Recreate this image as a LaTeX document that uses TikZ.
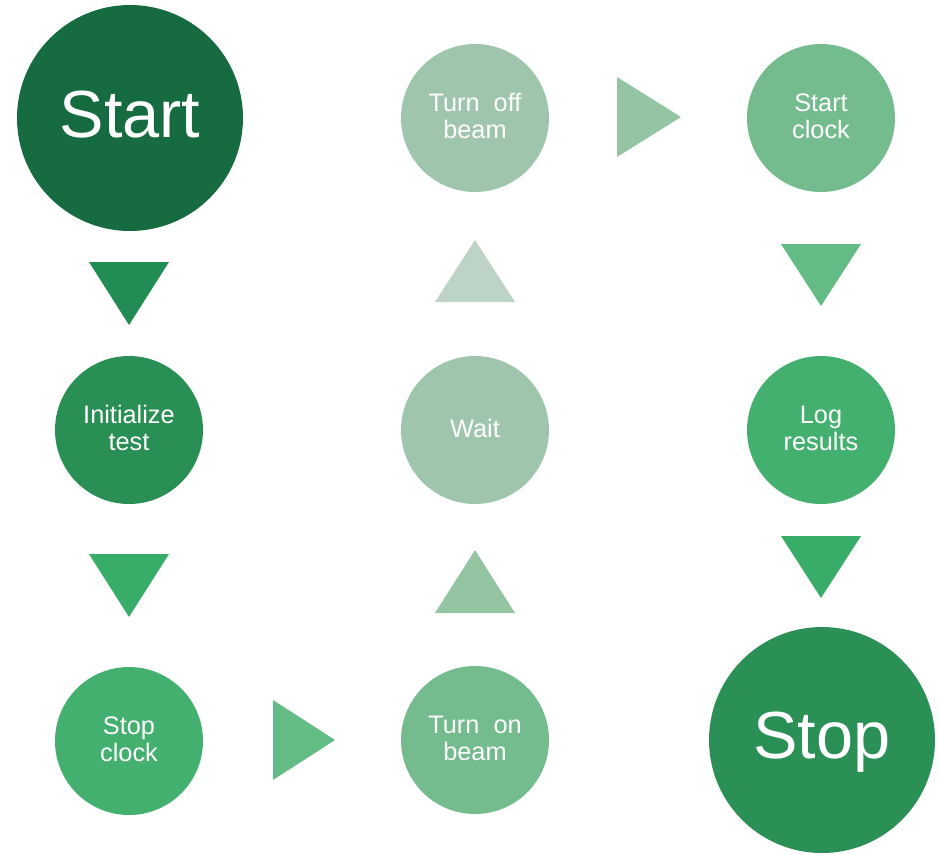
\documentclass[tikz,border=0pt]{standalone}
\usepackage{fontspec}
\setmainfont{Liberation Sans}
\begin{document}
\begin{tikzpicture}[x=0.75pt,y=-0.75pt,
  bigdot/.style={circle,draw=none,inner sep=0pt,minimum size=169.5pt},
  dot/.style={circle,draw=none,inner sep=0pt,minimum size=111pt},
  bigtxt/.style={text=white,inner sep=0pt,anchor=base,font=\fontsize{50}{56}\selectfont},
  txt/.style={text=white,inner sep=0pt,anchor=base,align=center,font=\fontsize{19}{20.25}\selectfont}]
\definecolor{cStart}{HTML}{176B40}
\definecolor{cInit}{HTML}{2A8F55}
\definecolor{cStopClock}{HTML}{44B070}
\definecolor{cTurnOn}{HTML}{74BB8E}
\definecolor{cWait}{HTML}{9FC6AD}
\definecolor{cTurnOff}{HTML}{9FC6AD}
\definecolor{cStartClock}{HTML}{74BB8E}
\definecolor{cLog}{HTML}{44B070}
\definecolor{cStop}{HTML}{2A9055}
\definecolor{aOne}{HTML}{228C55}
\definecolor{aTwo}{HTML}{38AD6A}
\definecolor{aThree}{HTML}{63BC85}
\definecolor{aFour}{HTML}{94C4A2}
\definecolor{aFive}{HTML}{BDD3C5}
\definecolor{aSix}{HTML}{94C4A2}
\definecolor{aSeven}{HTML}{63BC85}
\definecolor{aEight}{HTML}{38AD6A}
\useasboundingbox (0,0) rectangle (940,854);

% steps
\node[bigdot,fill=cStart] (start) at (130,118) {};
\node[dot,fill=cInit] (init) at (129,430) {};
\node[dot,fill=cStopClock] (stopclock) at (129,741) {};
\node[dot,fill=cTurnOn] (turnon) at (475,740) {};
\node[dot,fill=cWait] (wait) at (475,430) {};
\node[dot,fill=cTurnOff] (turnoff) at (475,118) {};
\node[dot,fill=cStartClock] (startclock) at (821,118) {};
\node[dot,fill=cLog] (log) at (821,430) {};
\node[bigdot,fill=cStop] (stop) at (822,740) {};

% labels (base anchor sits on the last line's baseline)
\node[bigtxt] (startlbl) at (130,137) {Start};
\node[txt] (initlbl) at (129,450) {Initialize\\test};
\node[txt] (stopclocklbl) at (129,761) {Stop\\clock};
\node[txt] (turnonlbl) at (475,760) {Turn\ \ on\\beam};
\node[txt] (waitlbl) at (475,437) {Wait};
\node[txt] (turnofflbl) at (475,138) {Turn\ \ off\\beam};
\node[txt] (startclocklbl) at (821,138) {Start\\clock};
\node[txt] (loglbl) at (821,450) {Log\\results};
\node[bigtxt] (stoplbl) at (822,758) {Stop};

% arrow heads between the steps
\fill[aOne] (89,262) -- (169,262) -- (129,325) -- cycle;
\fill[aTwo] (89,554) -- (169,554) -- (129,617) -- cycle;
\fill[aThree] (273,700) -- (273,780) -- (335,740) -- cycle;
\fill[aFour] (435,613) -- (515,613) -- (475,550) -- cycle;
\fill[aFive] (435,302) -- (515,302) -- (475,240) -- cycle;
\fill[aSix] (617,77) -- (617,157) -- (681,117) -- cycle;
\fill[aSeven] (781,244) -- (861,244) -- (821,306) -- cycle;
\fill[aEight] (781,536) -- (861,536) -- (821,598) -- cycle;
\end{tikzpicture}
\end{document}
